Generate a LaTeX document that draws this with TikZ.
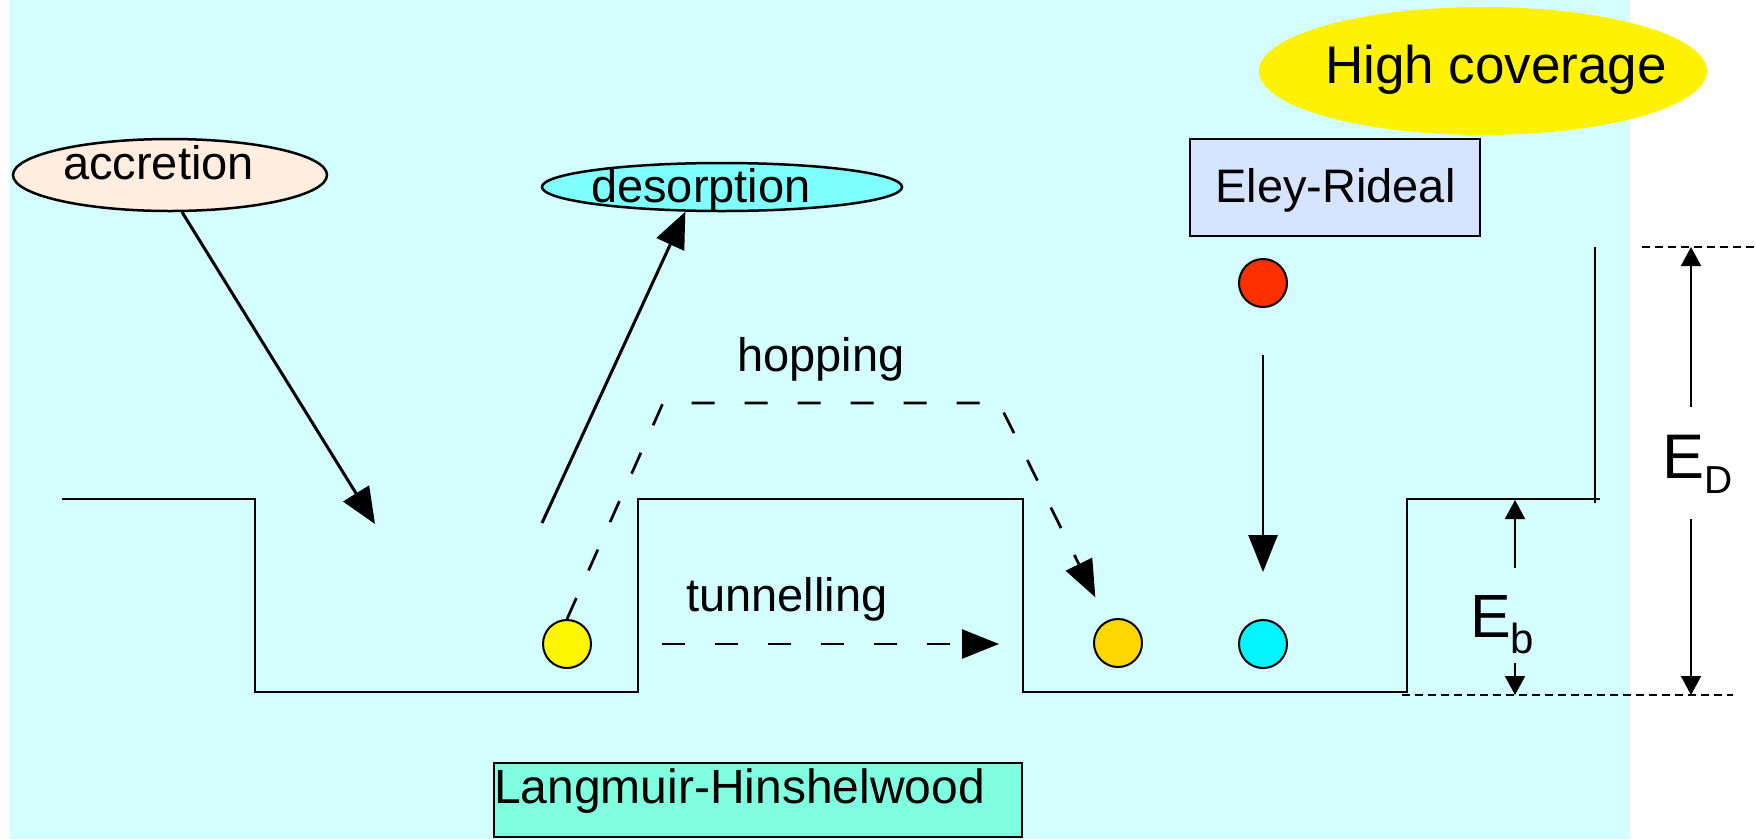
\documentclass[tikz,border=0pt]{standalone}
\usepackage{fontspec}
\setmainfont{Liberation Sans}
\usetikzlibrary{shapes.geometric,arrows.meta}
\definecolor{bgcyan}{RGB}{211,253,255}
\definecolor{accfill}{RGB}{255,237,224}
\definecolor{desfill}{RGB}{128,255,255}
\definecolor{erfill}{RGB}{214,228,255}
\definecolor{lhfill}{RGB}{127,255,224}
\definecolor{ballyellow}{RGB}{255,245,0}
\definecolor{ballgold}{RGB}{255,215,0}
\definecolor{ballcyan}{RGB}{0,245,255}
\definecolor{ballred}{RGB}{255,48,0}
\begin{document}
\begin{tikzpicture}[x=1pt,y=-1pt,
  txt/.style={inner sep=0pt, anchor=base west, font=\fontsize{47}{47}\selectfont},
  ell/.style={ellipse, draw, line width=2.5pt, inner sep=0pt},
  boxnode/.style={draw, line width=2.5pt, inner sep=0pt},
  ball/.style={circle, draw, line width=2pt, minimum size=48pt, inner sep=0pt},
  wall/.style={line width=2.5pt, line join=miter},
  bigarrow/.style={line width=3pt, -{Triangle[length=36pt,width=30pt]}},
  midarrow/.style={line width=2.5pt, -{Triangle[length=37pt,width=29pt]}},
  hoparrow/.style={line width=2.7pt, dash pattern=on 23pt off 30pt, -{Triangle[length=37pt,width=29pt]}},
  earrow/.style={line width=2pt, -{Triangle[length=19pt,width=20pt]}},
  level/.style={line width=1.5pt, dash pattern=on 8pt off 5pt}
]
\fill[white] (0,0) rectangle (1755,839);
\useasboundingbox (0,0) rectangle (1755,839);
\fill[bgcyan] (10,0) rectangle (1630,839);

% labels
\node[ell, fill=accfill, minimum width=314pt, minimum height=72pt] (acc) at (170,175) {};
\node[txt] (acct) at (63,179) {accretion};
\node[ell, fill=desfill, minimum width=360pt, minimum height=48pt] (des) at (722,187) {};
\node[txt] (dest) at (591,202) {desorption};
\node[ellipse, fill=yellow, minimum width=448pt, minimum height=128pt, inner sep=0pt] (hc) at (1483,71) {};
\node[txt, font=\fontsize{53}{53}\selectfont] (hct) at (1325,83) {High coverage};
\node[boxnode, fill=erfill, minimum width=290pt, minimum height=97pt] (er) at (1335,187.5) {};
\node[txt] (ert) at (1215,202) {Eley-Rideal};
\node[boxnode, fill=lhfill, minimum width=528pt, minimum height=74pt] (lh) at (758,800) {};
\node[txt, font=\fontsize{48}{48}\selectfont] (lht) at (494,803) {Langmuir-Hinshelwood};
\node[txt] (hopt) at (737,371) {hopping};
\node[txt] (tunt) at (686,611) {tunnelling};

% potential profile
\draw[wall] (62,499) -- (255,499) -- (255,692) -- (638,692) -- (638,499) -- (1023,499)
  -- (1023,692) -- (1407,692) -- (1407,499) -- (1600,499);
\draw[line width=2pt] (1595,247) -- (1595,503);

% energy levels
\draw[level] (1642,247) -- (1755,247);
\draw[level] (1402,695) -- (1733,695);

% balls
\node[ball, fill=ballyellow] (yb) at (567,644) {};
\node[ball, fill=ballgold] (gb) at (1118,643) {};
\node[ball, fill=ballcyan] (cb) at (1263,644) {};
\node[ball, fill=ballred] (rb) at (1263,283) {};

% accretion / desorption
\coordinate (accend) at (375,524);
\coordinate (desstart) at (542,523);
\draw[bigarrow] (acc.-72) -- (accend);
\draw[bigarrow] (desstart) -- (des.214);

% Eley-Rideal
\draw[midarrow, shorten <=47pt, shorten >=47pt] (rb) -- (cb);

% hopping
\coordinate (hopA) at (663,403);
\coordinate (hopB) at (999,403);
\draw[hoparrow, line join=miter, shorten >=26pt] (yb.north) -- (hopA) -- (hopB) -- (gb);

% tunnelling
\draw[hoparrow, shorten <=70pt, shorten >=94pt] (yb) -- (gb.west |- yb.center);

% E_D
\node[inner sep=0pt, anchor=base west] (ED) at (1662,478)
  {\fontsize{63}{63}\selectfont E\fontsize{39}{39}\selectfont\raisebox{-15pt}{D}};
\coordinate (EDup) at (1691,407);
\coordinate (EDtop) at (1691,247);
\coordinate (EDdn) at (1691,519);
\coordinate (EDbot) at (1691,695);
\draw[earrow] (EDup) -- (EDtop);
\draw[earrow] (EDdn) -- (EDbot);

% E_b
\node[inner sep=0pt, anchor=base west] (Eb) at (1470,637)
  {\fontsize{61}{61}\selectfont E\fontsize{42}{42}\selectfont\raisebox{-16pt}{b}};
\coordinate (Ebup) at (1515,568);
\coordinate (Ebtop) at (1515,500);
\coordinate (Ebdn) at (1515,663);
\coordinate (Ebbot) at (1515,695);
\draw[earrow] (Ebup) -- (Ebtop);
\draw[earrow] (Ebdn) -- (Ebbot);
\end{tikzpicture}
\end{document}
